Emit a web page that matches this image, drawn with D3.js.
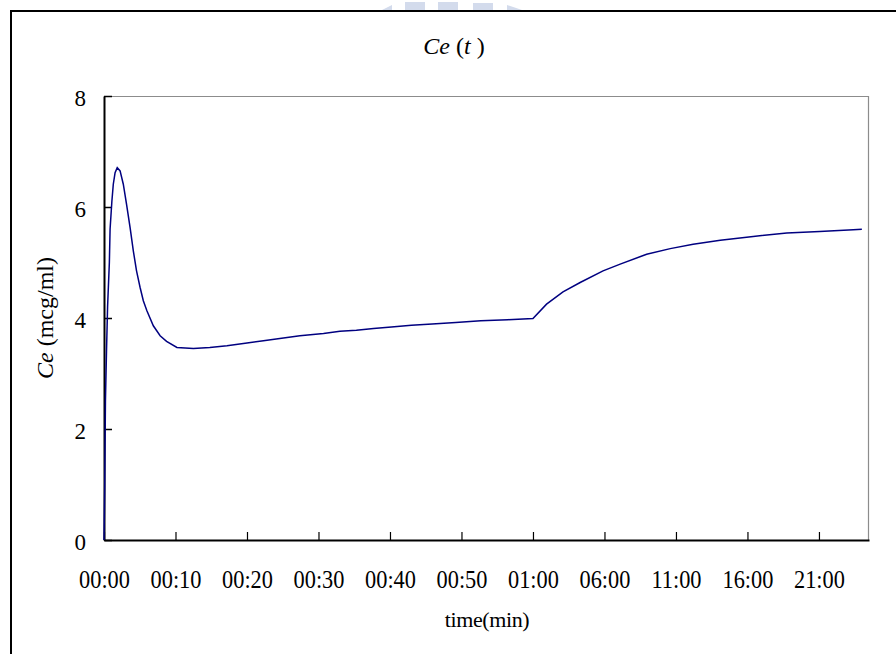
<!DOCTYPE html>
<html>
<head>
<meta charset="utf-8">
<script src="https://cdn.jsdelivr.net/npm/d3@7"></script>
<style>
  body { margin: 0; background: #fff; }
  svg { display: block; }
  text { font-family: "Liberation Serif", "DejaVu Serif", serif; fill: #000; }
</style>
</head>
<body>
<div id="chart"></div>
<script>
// category positions (one category per sample on the Excel-style axis) and Ce values
var pos = [0, 0.1, 0.2, 0.35, 0.5, 0.75, 0.85, 1.1, 1.3, 1.55, 1.85, 2.25, 2.7, 3.15,
  3.65, 4.1, 4.55, 5.05, 5.5, 6.0, 6.9, 7.85, 8.75, 10.2, 12.5, 14.8, 17.2, 20,
  22.3, 25.1, 27.4, 30.7, 33, 35.3, 37.7, 40.2, 43, 45.9, 49.2, 52.7, 56.5, 60,
  61.9, 64.2, 66.6, 69.8, 72.2, 75.9, 79.2, 82.4, 86.2, 90.8, 95.5, 100.1, 104.8, 106];
var ce = [0, 0.95, 2.5, 3.4, 4.2, 5.0, 5.6, 6.1, 6.41, 6.62, 6.71, 6.65, 6.41, 6.05,
  5.63, 5.21, 4.85, 4.55, 4.31, 4.13, 3.86, 3.68, 3.58, 3.47, 3.45, 3.47, 3.50, 3.55,
  3.59, 3.64, 3.68, 3.72, 3.76, 3.78, 3.81, 3.84, 3.87, 3.89, 3.92, 3.95, 3.97, 3.99,
  4.25, 4.47, 4.64, 4.85, 4.97, 5.15, 5.25, 5.33, 5.40, 5.47, 5.53, 5.56, 5.59, 5.60];

// x tick labels, one every 10 categories
var xTickPos = [0, 10, 20, 30, 40, 50, 60, 70, 80, 90, 100];
var xTickLabels = ["00:00", "00:10", "00:20", "00:30", "00:40", "00:50",
  "01:00", "06:00", "11:00", "16:00", "21:00"];
var yTicks = [0, 2, 4, 6, 8];

var W = 896, H = 654;
var margin = {top: 96, right: 27, bottom: 114, left: 104},
  width = W - margin.left - margin.right,
  height = H - margin.top - margin.bottom;

var svg = d3.select("#chart")
  .append("svg")
    .attr("width", W)
    .attr("height", H);

// faint watermark at the top
var wm = svg.append("g").attr("fill", "#d3dbec");
wm.append("path").attr("d", "M380,11 L392,5 L392,11 Z");
wm.append("rect").attr("x", 405).attr("y", 2).attr("width", 20).attr("height", 9);
wm.append("rect").attr("x", 438).attr("y", 2).attr("width", 20).attr("height", 9);
wm.append("rect").attr("x", 473).attr("y", 3).attr("width", 20).attr("height", 8);
wm.append("path").attr("d", "M507,5 L522,10 L507,11 Z");

// outer chart frame (runs off the right and bottom)
svg.append("rect")
  .attr("x", 11).attr("y", 11)
  .attr("width", W + 20).attr("height", H + 20)
  .attr("fill", "none")
  .attr("stroke", "#000")
  .attr("stroke-width", 2);

var g = svg.append("g")
  .attr("transform", "translate(" + margin.left + "," + margin.top + ")");

var x = d3.scaleLinear().domain([0, 107]).range([0, width]);
var y = d3.scaleLinear().domain([0, 8]).range([height, 0]);

// plot area: grey top and right edges
g.append("path")
  .attr("d", "M0,0.5 H" + (width - 0.5) + " V" + height)
  .attr("fill", "none")
  .attr("stroke", "#8c8c8c")
  .attr("stroke-width", 1.2);

// x axis
var xAxis = g.append("g")
  .attr("transform", "translate(0," + height + ")")
  .call(d3.axisBottom(x)
    .tickValues(xTickPos)
    .tickSizeInner(-8)
    .tickSizeOuter(0)
    .tickPadding(30)
    .tickFormat(function(d, i) { return xTickLabels[i]; }));
xAxis.select(".domain").attr("stroke", "#000").attr("stroke-width", 2);
xAxis.selectAll(".tick line").attr("stroke", "#000").attr("stroke-width", 1.2);
xAxis.selectAll(".tick text")
  .attr("font-size", 26)
  .attr("font-family", "Liberation Serif")
  .attr("transform", "scale(0.86,1)")
  .attr("fill", "#111");

// y axis
var yAxis = g.append("g")
  .call(d3.axisLeft(y)
    .tickValues(yTicks)
    .tickSizeInner(-8)
    .tickSizeOuter(0)
    .tickPadding(18)
    .tickFormat(d3.format("d")));
yAxis.select(".domain").attr("stroke", "#000").attr("stroke-width", 2);
yAxis.selectAll(".tick line").attr("stroke", "#000").attr("stroke-width", 1.5);
yAxis.selectAll(".tick text")
  .attr("font-size", 23)
  .attr("font-family", "Liberation Serif")
  .attr("dy", "0.4em")
  .attr("fill", "#111");

// the curve
var line = d3.line()
  .x(function(d, i) { return x(pos[i]); })
  .y(function(d) { return y(d); });

g.append("path")
  .datum(ce)
  .attr("d", line)
  .attr("fill", "none")
  .attr("stroke", "#000080")
  .attr("stroke-width", 1.5);

// title
var title = svg.append("text")
  .attr("x", 454)
  .attr("y", 54)
  .attr("text-anchor", "middle")
  .attr("font-size", 24);
title.append("tspan").attr("font-style", "italic").text("Ce");
title.append("tspan").text(" (");
title.append("tspan").attr("font-style", "italic").text("t");
title.append("tspan").text(" )");

// y axis title
var yt = svg.append("text")
  .attr("transform", "translate(53," + (margin.top + height / 2) + ") rotate(-90)")
  .attr("text-anchor", "middle")
  .attr("font-size", 24);
yt.append("tspan").attr("font-style", "italic").text("Ce");
yt.append("tspan").text(" (mcg/ml)");

// x axis title
svg.append("text")
  .attr("x", 487)
  .attr("y", 627)
  .attr("text-anchor", "middle")
  .attr("font-size", 22)
  .attr("letter-spacing", -0.4)
  .text("time(min)");
</script>
</body>
</html>
